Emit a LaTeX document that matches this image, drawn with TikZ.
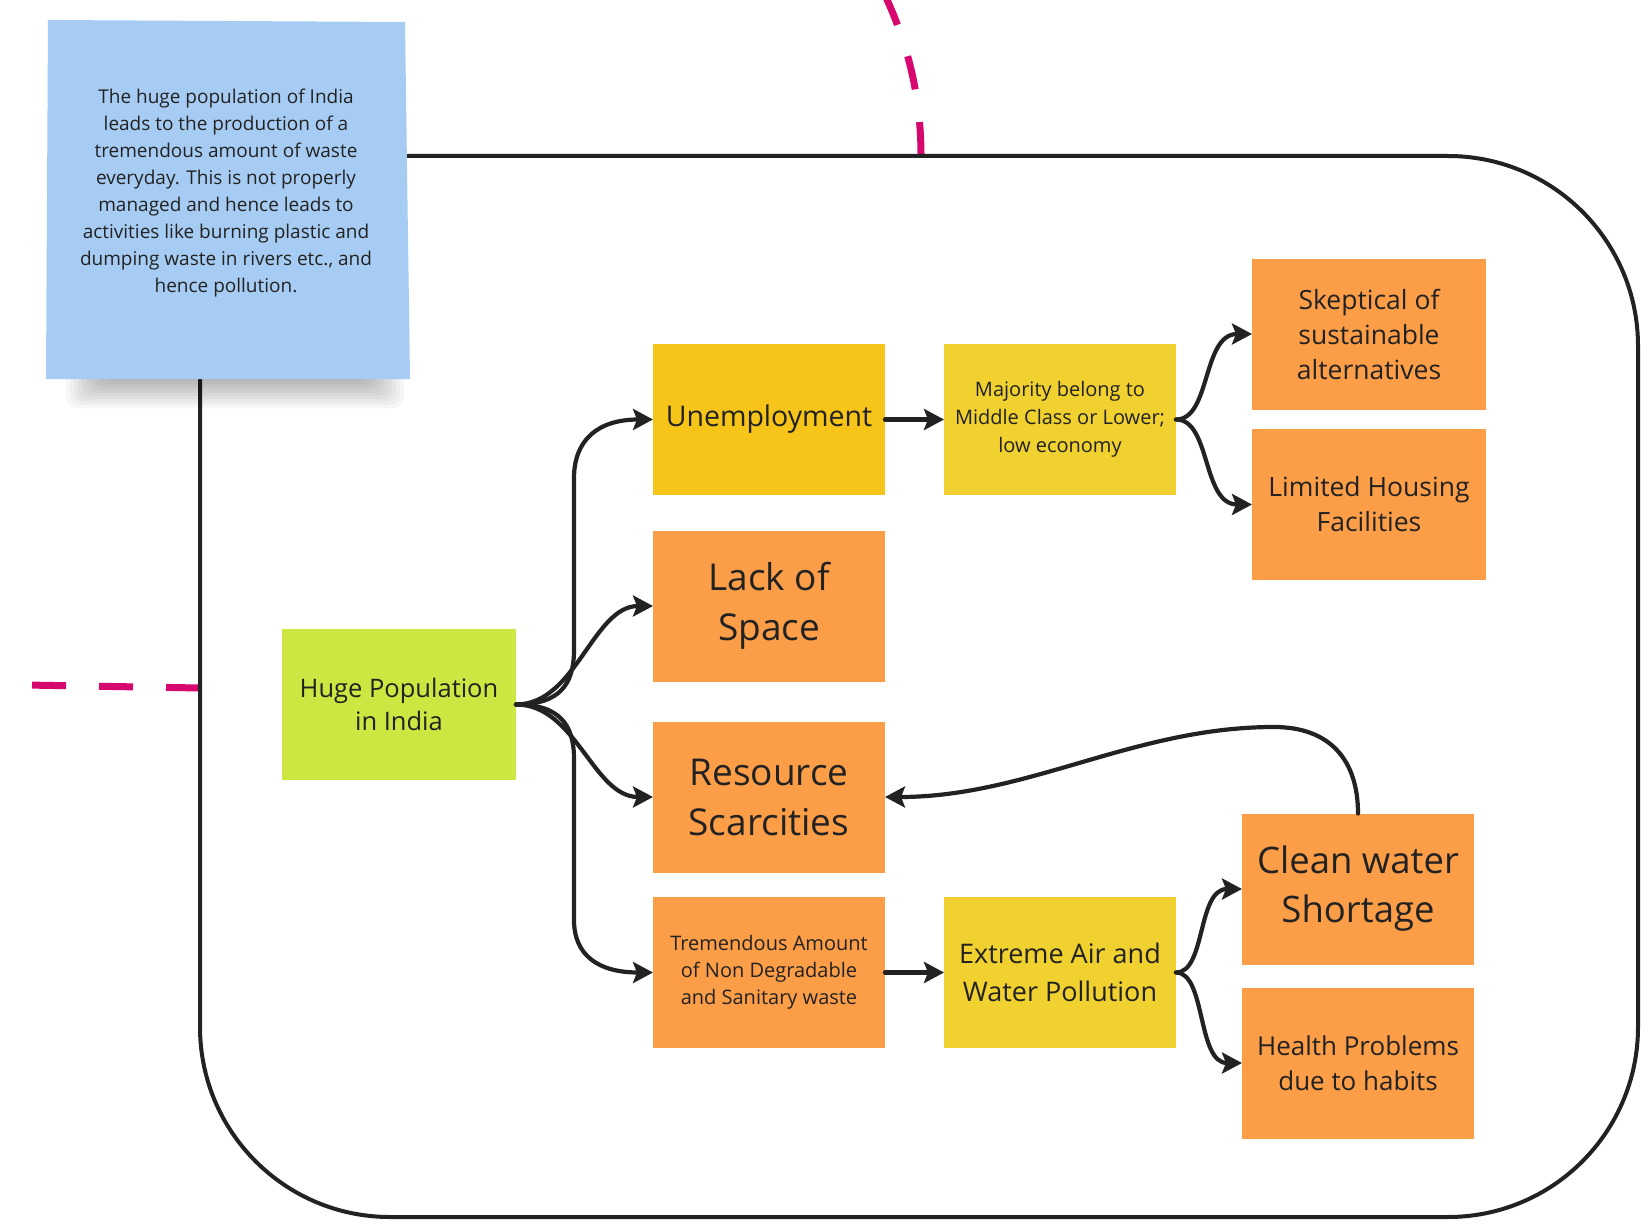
\documentclass[tikz,border=0pt]{standalone}
\usepackage{fontspec}
\setmainfont{Open Sans}
\usetikzlibrary{arrows.meta}

\definecolor{ink}{HTML}{222222}
\definecolor{stickyblue}{HTML}{A7CCF4}
\definecolor{limegreen}{HTML}{CDE641}
\definecolor{gold}{HTML}{F7C51A}
\definecolor{lemon}{HTML}{F1D12F}
\definecolor{tangerine}{HTML}{FC9D48}
\definecolor{dashpink}{HTML}{D6076E}

\begin{document}
\begin{tikzpicture}[x=1pt,y=-1pt,
  card/.style={rectangle, inner sep=0pt, outer sep=0pt,
    minimum width=232pt, minimum height=151pt, align=center, text=ink},
  flow/.style={line width=4.2pt, draw=ink, line cap=round,
    -{Stealth[length=20pt,width=21pt,inset=4pt]}},
  pinkdash/.style={draw=dashpink, line width=7pt, dash pattern=on 34pt off 33pt},
  fs/.style n args={2}{font=\fontsize{#1}{#2}\selectfont}
]
% canvas
\useasboundingbox (0,0) rectangle (1641,1225);
\fill[white] (0,0) rectangle (1641,1225);

% dashed links coming in from outside
\coordinate (westlink) at (200,688);
\coordinate (westend) at (-4,684.5);
\draw[pinkdash] (westlink) -- (westend);
\coordinate (northlink) at (921,156);
\coordinate (northend) at (880,-15);
\draw[pinkdash] (northlink) .. controls (921,90) and (905,35) .. (northend);

% the rounded frame around the causal chain
\node[draw=ink, line width=4pt, rounded corners=190pt, inner sep=0pt, outer sep=0pt,
  minimum width=1438pt, minimum height=1061pt] (frame) at (919,686.5) {};

% sticky note with its soft shadow
\foreach \k in {0,...,9}{
  \fill[black, opacity=0.03, rounded corners=10pt]
    (66+4*\k,364) rectangle (404-4*\k,408-3*\k);
}
\fill[stickyblue] (48,20) -- (405,22) -- (410,379) -- (46,379) -- cycle;
\node[text=ink, align=center, fs={19}{26.9}] (note) at (226,193)
  {The huge population of India\\
   leads to the production of a\\
   tremendous amount of waste\\
   everyday. This is not properly\\
   managed and hence leads to\\
   activities like burning plastic and\\
   dumping waste in rivers etc., and\\
   hence pollution.};

% boxes
\node[card, fill=limegreen, minimum width=234pt, fs={25.5}{33}] (pop) at (399,704.5)
  {Huge Population\\in India};
\node[card, fill=gold, fs={28.5}{36}] (unemp) at (769,419.5) {Unemployment};
\node[card, fill=tangerine, fs={37}{50}] (lack) at (769,606) {Lack of\\Space};
\node[card, fill=tangerine, fs={37}{50}] (res) at (769,797) {Resource\\Scarcities};
\node[card, fill=tangerine, fs={20}{27}] (trem) at (769,972.5)
  {Tremendous Amount\\of Non Degradable\\and Sanitary waste};
\node[card, fill=lemon, fs={20}{27.7}] (maj) at (1060,419.5)
  {Majority belong to\\Middle Class or Lower;\\low economy};
\node[card, fill=lemon, fs={27}{38}] (ext) at (1060,972.5)
  {Extreme Air and\\Water Pollution};
\node[card, fill=tangerine, minimum width=234pt, fs={26.5}{35}] (skep) at (1369,334)
  {Skeptical of\\sustainable\\alternatives};
\node[card, fill=tangerine, minimum width=234pt, fs={26.5}{35}] (lim) at (1369,504.5)
  {Limited Housing\\Facilities};
\node[card, fill=tangerine, fs={36.5}{49}] (clean) at (1358,889)
  {Clean water\\Shortage};
\node[card, fill=tangerine, fs={26}{35.5}] (health) at (1358,1063)
  {Health Problems\\due to habits};

% connectors from the population box
\draw[flow] (pop.east) .. controls (559,704.5) and (574,685) .. (574,650)
  -- (574,478) .. controls (574,440) and (598,419.5) .. (unemp.west);
\draw[flow] (pop.east) .. controls (576,704.5) and (593,606) .. (lack.west);
\draw[flow] (pop.east) .. controls (576,704.5) and (593,797) .. (res.west);
\draw[flow] (pop.east) .. controls (559,704.5) and (574,724) .. (574,759)
  -- (574,920) .. controls (574,955) and (598,972.5) .. (trem.west);

% upper chain
\draw[flow] (unemp.east) -- (maj.west);
\draw[flow] (maj.east) .. controls (1211,419.5) and (1202,334) .. (skep.west);
\draw[flow] (maj.east) .. controls (1211,419.5) and (1202,504.5) .. (lim.west);

% lower chain
\draw[flow] (trem.east) -- (ext.west);
\draw[flow] (ext.east) .. controls (1206,972.5) and (1197,889) .. (clean.west);
\draw[flow] (ext.east) .. controls (1206,972.5) and (1197,1063) .. (health.west);

% feedback from water shortage to resource scarcities
\coordinate (crest) at (1274,727);
\draw[flow] (clean.north) .. controls (1358,760) and (1330,727) .. (crest)
  .. controls (1134,727) and (1028,797) .. (res.east);
\end{tikzpicture}
\end{document}
